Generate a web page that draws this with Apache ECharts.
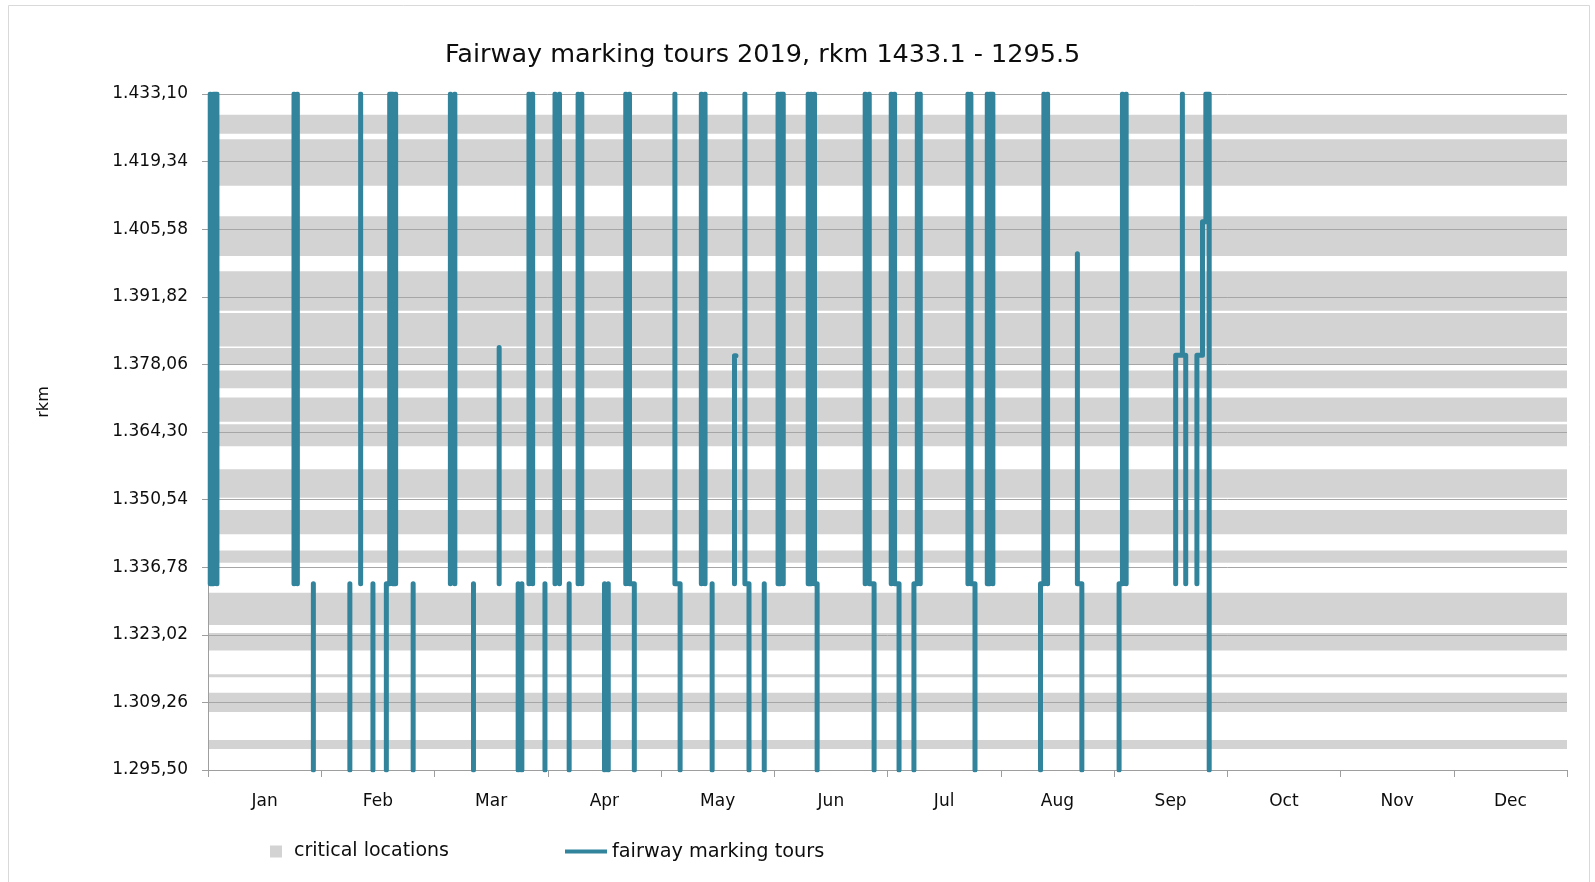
<!DOCTYPE html>
<html>
<head>
<meta charset="utf-8">
<title>Fairway marking tours 2019</title>
<script src="https://cdn.jsdelivr.net/npm/echarts@6.0.0/dist/echarts.min.js"></script>
<style>
  html, body { margin: 0; padding: 0; background: #fff; }
  #chart { width: 1595px; height: 882px; }
</style>
</head>
<body>
<div id="chart"></div>
<script>
// month labels on the x axis
var months = ["Jan", "Feb", "Mar", "Apr", "May", "Jun", "Jul", "Aug", "Sep", "Oct", "Nov", "Dec"];

// y axis tick labels (rkm)
var rkmTicks = [1295.50, 1309.26, 1323.02, 1336.78, 1350.54, 1364.30, 1378.06, 1391.82, 1405.58, 1419.34, 1433.10];

// critical locations: [from rkm, to rkm]
var criticalLocations = [
  [1425.0, 1428.9], [1414.4, 1423.9], [1400.1, 1408.2], [1389.0, 1397.0],
  [1381.7, 1388.5], [1378.1, 1381.4], [1373.2, 1376.8], [1366.4, 1371.3],
  [1361.4, 1365.9], [1350.9, 1356.7], [1343.5, 1348.4], [1337.7, 1340.2],
  [1325.0, 1331.6], [1319.8, 1323.4], [1314.4, 1315.0], [1307.3, 1311.2],
  [1299.8, 1301.6]
];

// section ends used by the tours
var TOP = 1433.1, MID = 1333.4, BOT = 1295.5;

// fairway marking tours: [day of year, rkm] paths
var tours = [
  [[0.6, TOP], [0.6, MID], [1.5, MID], [1.5, TOP], [2.4, TOP], [2.4, MID]],
  [[23.1, TOP], [23.1, MID]], [[24.0, MID], [24.0, TOP]],
  [[28.3, MID], [28.3, BOT]],
  [[38.1, MID], [38.1, BOT]],
  [[41.0, TOP], [41.0, MID]],
  [[44.3, MID], [44.3, BOT]],
  [[47.9, BOT], [47.9, MID], [48.8, MID], [48.8, TOP], [49.6, TOP], [49.6, MID], [50.4, MID], [50.4, TOP]],
  [[55.1, MID], [55.1, BOT]],
  [[65.1, TOP], [65.1, MID]], [[66.3, MID], [66.3, TOP]],
  [[71.3, MID], [71.3, BOT]],
  [[78.2, MID], [78.2, 1381.5]],
  [[83.3, MID], [83.3, BOT]], [[84.3, BOT], [84.3, MID]],
  [[86.2, TOP], [86.2, MID]], [[87.2, MID], [87.2, TOP]],
  [[90.5, MID], [90.5, BOT]],
  [[93.2, TOP], [93.2, MID]], [[94.4, MID], [94.4, TOP]],
  [[97.0, MID], [97.0, BOT]],
  [[99.4, TOP], [99.4, MID]], [[100.4, MID], [100.4, TOP]],
  [[106.5, MID], [106.5, BOT]], [[107.5, BOT], [107.5, MID]],
  [[112.2, TOP], [112.2, MID]], [[113.2, TOP], [113.2, MID], [114.5, MID], [114.5, BOT]],
  [[125.4, TOP], [125.4, MID], [126.8, MID], [126.8, BOT]],
  [[132.5, TOP], [132.5, MID]], [[133.5, MID], [133.5, TOP]],
  [[135.4, MID], [135.4, BOT]],
  [[141.4, MID], [141.4, 1379.8], [141.8, 1379.8]],
  [[144.2, TOP], [144.2, MID], [145.3, MID], [145.3, BOT]],
  [[149.4, MID], [149.4, BOT]],
  [[153.1, TOP], [153.1, MID], [153.8, MID], [153.8, TOP], [154.5, TOP], [154.5, MID]],
  [[161.2, TOP], [161.2, MID], [162.0, MID], [162.0, TOP]], [[162.9, TOP], [162.9, MID], [163.6, MID], [163.6, BOT]],
  [[176.5, TOP], [176.5, MID]], [[177.6, TOP], [177.6, MID], [178.9, MID], [178.9, BOT]],
  [[183.5, TOP], [183.5, MID]], [[184.4, TOP], [184.4, MID], [185.6, MID], [185.6, BOT]],
  [[189.6, BOT], [189.6, MID], [190.5, MID], [190.5, TOP]], [[191.3, TOP], [191.3, MID]],
  [[204.1, TOP], [204.1, MID]], [[204.9, TOP], [204.9, MID], [206.0, MID], [206.0, BOT]],
  [[209.3, TOP], [209.3, MID], [210.0, MID], [210.0, TOP], [210.8, TOP], [210.8, MID]],
  [[223.6, BOT], [223.6, MID], [224.5, MID], [224.5, TOP]], [[225.5, TOP], [225.5, MID]],
  [[233.5, 1400.6], [233.5, MID], [234.7, MID], [234.7, BOT]],
  [[244.7, BOT], [244.7, MID], [245.6, MID], [245.6, TOP]], [[246.6, TOP], [246.6, MID]],
  [[259.9, MID], [259.9, 1379.9], [261.7, 1379.9], [261.7, TOP], [261.7, 1379.9], [262.6, 1379.9], [262.6, MID]],
  [[265.6, MID], [265.6, 1379.9], [267.1, 1379.9], [267.1, 1407.1], [268.0, 1407.1], [268.0, TOP], [268.9, TOP], [268.9, BOT]]
];

var FONT = "DejaVu Sans";
var TEXT = "#0d0d0d";
var LINE = "#31849B";
var BAND = "#D3D3D3";
var GRIDLINE = "#A6A6A6";

// y axis runs from the first tick; values are shifted so min is 0
var base = rkmTicks[0];
var step = +(rkmTicks[1] - rkmTicks[0]).toFixed(2);
var yMax = +(step * (rkmTicks.length - 1)).toFixed(2);

function fmtRkm(v) {
  var s = (v + base).toFixed(2).split(".");
  var intPart = s[0].replace(/\B(?=(\d{3})+(?!\d))/g, ".");
  return intPart + "," + s[1];
}

var tourData = [];
tours.forEach(function (t, i) {
  if (i > 0) tourData.push([t[0][0], "-"]);
  t.forEach(function (p) {
    tourData.push([p[0], +(p[1] - base).toFixed(3)]);
  });
});

var bandData = criticalLocations.map(function (b) {
  return [b[0] - base, b[1] - base];
});

var chart = echarts.init(document.getElementById("chart"));
chart.setOption({
  backgroundColor: "#FFFFFF",
  animation: false,
  textStyle: { fontFamily: FONT, color: TEXT },
  title: {
    text: "Fairway marking tours 2019, rkm 1433.1 - 1295.5",
    left: 445,
    top: 42,
    padding: 0,
    textStyle: { fontFamily: FONT, fontSize: 25.5, fontWeight: "normal", color: TEXT }
  },
  legend: [
    {
      data: ["critical locations"],
      left: 270,
      top: 842,
      padding: 0,
      icon: "path://M0,0h10v10h-10z",
      itemWidth: 26,
      itemHeight: 12,
      textStyle: { fontFamily: FONT, fontSize: 19, color: TEXT }
    },
    {
      data: ["fairway marking tours"],
      left: 565,
      top: 842,
      padding: 0,
      icon: "rect",
      itemWidth: 42,
      itemHeight: 4,
      textStyle: { fontFamily: FONT, fontSize: 19.3, color: TEXT }
    }
  ],
  grid: {
    left: 208,
    right: 28,
    top: 94,
    bottom: 112,
    containLabel: false
  },
  xAxis: [
    {
      type: "value",
      min: 0,
      max: 365,
      show: false
    },
    {
      type: "category",
      position: "bottom",
      data: months,
      boundaryGap: true,
      z: 2,
      axisLine: { lineStyle: { color: "#9E9E9E", width: 1 } },
      axisTick: { show: true, length: 7, lineStyle: { color: "#9E9E9E" } },
      axisLabel: { margin: 23, fontFamily: FONT, fontSize: 17, color: TEXT },
      splitLine: { show: false }
    }
  ],
  yAxis: {
    type: "value",
    min: 0,
    max: yMax,
    interval: step,
    z: 2,
    axisLine: { show: true, lineStyle: { color: "#9E9E9E", width: 1 } },
    axisTick: { show: true, length: 6, lineStyle: { color: "#9E9E9E" } },
    axisLabel: {
      margin: 20,
      fontFamily: FONT,
      fontSize: 17,
      color: TEXT,
      formatter: fmtRkm
    },
    splitLine: { show: true, lineStyle: { color: GRIDLINE, width: 1 } }
  },
  graphic: [
    {
      type: "rect",
      shape: { x: 8.5, y: 5.5, width: 1581, height: 900 },
      style: { fill: "none", stroke: "#D9D9D9", lineWidth: 1 },
      silent: true,
      z: -10
    },
    {
      type: "text",
      x: 44,
      y: 402,
      rotation: Math.PI / 2,
      style: {
        text: "rkm",
        fill: TEXT,
        font: "16px '" + FONT + "'",
        align: "center",
        verticalAlign: "middle"
      }
    }
  ],
  series: [
    {
      name: "critical locations",
      type: "custom",
      xAxisIndex: 0,
      yAxisIndex: 0,
      z: 1,
      silent: true,
      itemStyle: { color: BAND },
      encode: { y: [0, 1] },
      data: bandData,
      renderItem: function (params, api) {
        var p1 = api.coord([0, api.value(1)]);
        var p2 = api.coord([365, api.value(0)]);
        return {
          type: "rect",
          shape: { x: p1[0], y: p1[1], width: p2[0] - p1[0], height: p2[1] - p1[1] },
          style: { fill: BAND }
        };
      }
    },
    {
      name: "fairway marking tours",
      type: "line",
      xAxisIndex: 0,
      yAxisIndex: 0,
      z: 3,
      symbol: "none",
      showSymbol: false,
      connectNulls: false,
      itemStyle: { color: LINE },
      lineStyle: { color: LINE, width: 5, cap: "round", join: "round" },
      data: tourData
    }
  ]
});
</script>
</body>
</html>
